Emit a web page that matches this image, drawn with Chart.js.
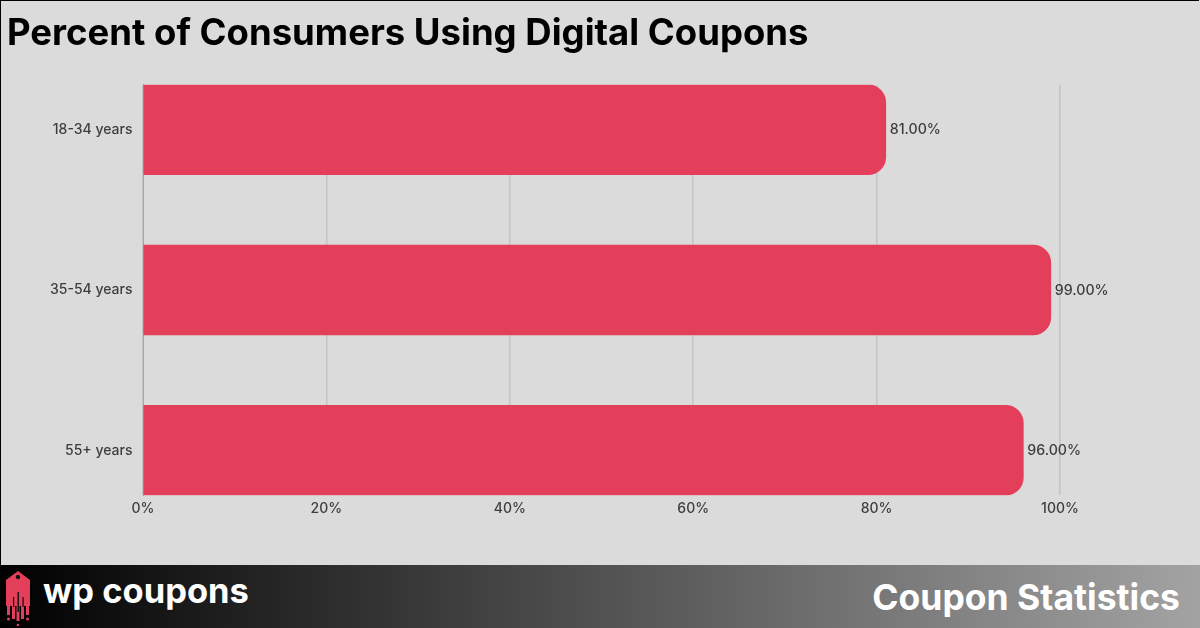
<!DOCTYPE html>
<html>
<head>
<meta charset="utf-8">
<title>Percent of Consumers Using Digital Coupons</title>
<script src="https://cdn.jsdelivr.net/npm/chart.js@4"></script>
<style>
  html, body { margin: 0; padding: 0; }
  body { width: 1200px; height: 628px; background: #dbdbdb; position: relative; overflow: hidden; }
  #frame { position: absolute; left: 0; top: 0; width: 1199px; height: 627px; border: 1px solid #000; border-width: 1px 0 0 1px; box-sizing: border-box; pointer-events: none; }
  #myChart { position: absolute; left: 0; top: 0; }
  #footer { position: absolute; left: 0; top: 565px; width: 1200px; height: 63px; background: linear-gradient(to right, #000 0%, #a3a3a3 100%); color: #fff; }
  #brand { position: absolute; left: 43px; top: 5px; font: 700 34.5px Inter, sans-serif; }
  #section { position: absolute; right: 20px; top: 11px; font: 700 35.5px Inter, sans-serif; }
  #logo { position: absolute; left: 5px; top: 5px; }
</style>
</head>
<body>
<canvas id="myChart" width="1200" height="565"></canvas>
<div id="frame"></div>
<div id="footer">
  <svg id="logo" width="28" height="56" viewBox="0 0 28 56">
    <path fill="#e43f5a" d="M1 10 L13 1 L25 10 V36 H1 Z"/>
    <circle cx="13" cy="7" r="2.2" fill="#111"/>
    <path fill="#e43f5a" d="M2 35h3v10H2zM7 35h3v14H7zM11.5 35h3v16h-3zM16 35h3v14h-3zM21 35h3v10h-3z"/>
    <circle cx="3.5" cy="49" r="1.5" fill="#e43f5a"/><circle cx="22.5" cy="49" r="1.5" fill="#e43f5a"/><circle cx="13" cy="55" r="1.3" fill="#e43f5a"/>
    <path fill="#111" d="M12.5 22h1.4v20h-1.4zM8 27h1.2v10H8zM17.5 27h1.2v10h-1.2z"/>
  </svg>
  <div id="brand">wp coupons</div>
  <div id="section">Coupon Statistics</div>
</div>
<script>
const titleText = "Percent of Consumers Using Digital Coupons";
const ageGroups = ["18-34 years", "35-54 years", "55+ years"];
const percentValues = [81, 99, 96];
const xTicks = [0, 20, 40, 60, 80, 100];

const textColor = "#3d3d3d";
const barColor = "#e43f5a";

//Etiquetas de valor al final de cada barra
const valueLabels = {
  id: "valueLabels",
  afterDatasetsDraw(chart) {
    const ctx = chart.ctx;
    const meta = chart.getDatasetMeta(0);
    ctx.save();
    ctx.font = "500 14.2px Inter, sans-serif";
    ctx.fillStyle = textColor;
    ctx.textAlign = "left";
    ctx.textBaseline = "middle";
    meta.data.forEach((bar, i) => {
      ctx.fillText(percentValues[i].toFixed(2) + "%", bar.x + 4, bar.y + 0.5);
    });
    ctx.restore();
  },
};

const data = {
  datasets: [
    {
      data: percentValues.map((v, i) => ({ x: v, y: i })),
      backgroundColor: barColor,
      barThickness: 90,
      borderRadius: { topRight: 18, bottomRight: 18, topLeft: 0, bottomLeft: 0 },
      borderSkipped: false,
    },
  ],
};

const options = {
  indexAxis: "y",
  responsive: false,
  animation: false,
  layout: { padding: { left: 7, right: 140, top: 12, bottom: 43 } },
  plugins: {
    legend: { display: false },
    tooltip: { enabled: false },
    title: {
      display: true,
      text: titleText,
      align: "start",
      color: "#000",
      font: { family: "Inter, sans-serif", size: 36.5, weight: "700" },
      padding: { top: 0, bottom: 29 },
    },
  },
  scales: {
    x: {
      type: "linear",
      min: 0,
      max: 100,
      afterBuildTicks(axis) {
        axis.ticks = xTicks.map((v) => ({ value: v }));
      },
      grid: { color: "#c4c4c4", lineWidth: 1.5, drawTicks: false },
      border: { display: false },
      ticks: {
        color: textColor,
        padding: 5,
        maxRotation: 0,
        font: { family: "Inter, sans-serif", size: 14, weight: "500" },
        callback: (v) => v + "%",
      },
    },
    y: {
      type: "linear",
      reverse: true,
      offset: false,
      min: -0.28,
      max: 2.28,
      afterBuildTicks(axis) {
        axis.ticks = ageGroups.map((g, i) => ({ value: i }));
      },
      afterFit(axis) {
        axis.width = 136;
      },
      grid: { display: false },
      border: { display: true, color: "#a8a8a8", width: 1 },
      ticks: {
        color: textColor,
        padding: 2.5,
        font: { family: "Inter, sans-serif", size: 14, weight: "500" },
        callback: (v) => ageGroups[v],
      },
    },
  },
};

new Chart("myChart", { type: "bar", data, options, plugins: [valueLabels] });
</script>
</body>
</html>
